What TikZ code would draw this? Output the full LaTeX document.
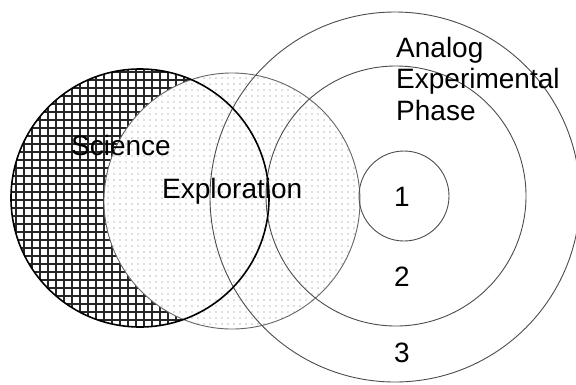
\documentclass[tikz,border=0pt]{standalone}
\usepackage{fontspec}
\setmainfont{Liberation Sans}
\usetikzlibrary{patterns.meta}

\tikzset{
  ring/.style={draw=black!70, line width=0.9pt},
  label/.style={inner sep=0pt, font=\fontsize{28}{31.5}\selectfont},
}

\begin{document}
\begin{tikzpicture}[x=1pt,y=-1pt]
    \useasboundingbox (0,0) rectangle (576,384);
    \clip (0,0) rectangle (576,384);

    \coordinate (sci) at (140,198);
    \coordinate (exp) at (232,201);
    \coordinate (ph) at (396,196);

    % science, hatched
    \fill[pattern={Hatch[distance=8pt, angle=0, line width=1.1pt]}, pattern color=black!85] (sci) circle (129);
    % exploration, dotted
    \fill[white] (exp) circle (128);
    \fill[pattern={Dots[distance=6pt, radius=0.6pt]}, pattern color=black!55] (exp) circle (128);
    \draw[draw=black!60, line width=0.9pt] (exp) circle (128);

    % phases
    \draw[ring] (395,197) circle (185);
    \draw[ring] (ph) circle (130);
    \draw[ring] (404,196) circle (45);

    \draw[black, line width=1.6pt] (sci) circle (129);

    \node[label, anchor=base west] (science) at (71,155) {Science};
    \node[label, anchor=base west] (exploration) at (162,198) {Exploration};
    \node[label, anchor=base west, align=left] (analog) at (396,120) {Analog\\Experimental\\Phase};

    \node[label] (one) at (402,197) {1};
    \node[label] (two) at (402,277) {2};
    \node[label] (three) at (402,353) {3};

\end{tikzpicture}
\end{document}
